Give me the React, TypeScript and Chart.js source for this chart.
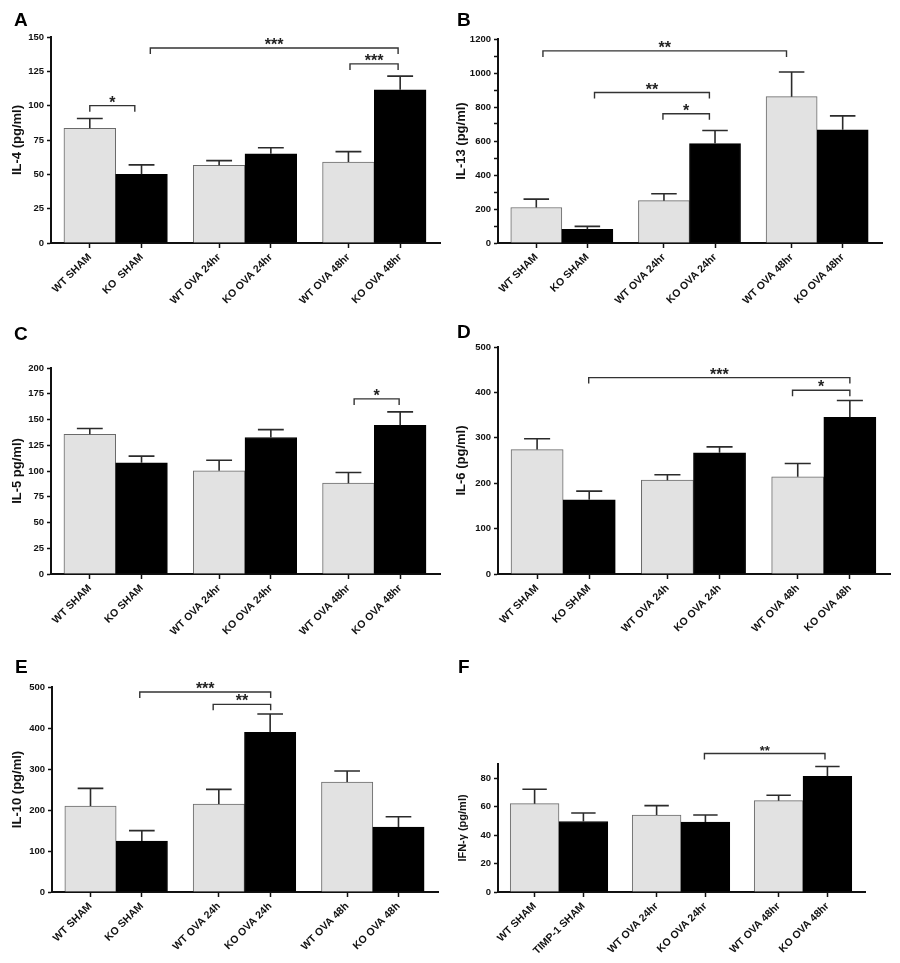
import React, { useEffect, useRef } from 'react';
import { Chart, registerables } from 'chart.js';
Chart.register(...registerables);

const FONT = '"Liberation Sans", Arial, Helvetica, sans-serif';
const LIGHT = '#e2e2e2';
const DARK = '#000000';
const INK = '#111111';

// ---------- data ----------
const il4Labels = ['WT SHAM', 'KO  SHAM', 'WT OVA 24hr', 'KO OVA 24hr', 'WT OVA 48hr', 'KO OVA 48hr'];
const il4Mean = [83.5, 50, 56.6, 65, 59, 111.5];
const il4Sem = [7.2, 6.9, 3.4, 4.4, 7.5, 10];
const il4Ticks = [0, 25, 50, 75, 100, 125, 150];
const il4Sig = [
  { from: 0, to: 0.87, y: 100, label: '*' },
  { from: 1.17, to: 5.96, y: 142, label: '***' },
  { from: 5.03, to: 5.96, y: 130.4, label: '***' },
];

const il13Labels = ['WT SHAM', 'KO SHAM', 'WT OVA 24hr', 'KO OVA 24hr', 'WT OVA 48hr', 'KO OVA 48hr'];
const il13Mean = [209, 80, 249, 585, 861, 666];
const il13Sem = [49, 18, 41, 77, 145, 82];
const il13Ticks = [0, 200, 400, 600, 800, 1000, 1200];
const il13Sig = [
  { from: 0.13, to: 4.9, y: 1130, label: '**' },
  { from: 1.14, to: 3.39, y: 885, label: '**' },
  { from: 2.48, to: 3.39, y: 760, label: '*' },
];

const il5Labels = ['WT SHAM', 'KO SHAM', 'WT OVA 24hr', 'KO OVA 24hr', 'WT OVA 48hr', 'KO OVA 48hr'];
const il5Mean = [135.7, 107.9, 100.2, 132.5, 88.2, 144.4];
const il5Sem = [5.5, 6.5, 10.3, 7.7, 10.3, 13];
const il5Ticks = [0, 25, 50, 75, 100, 125, 150, 175, 200];
const il5Sig = [{ from: 5.11, to: 5.98, y: 170, label: '*' }];

const il6Labels = ['WT SHAM', 'KO SHAM', 'WT OVA 24h', 'KO OVA 24h', 'WT OVA 48h', 'KO OVA 48h'];
const il6Mean = [274, 163.5, 206.7, 266.9, 214, 345.3];
const il6Sem = [24, 19.1, 11.8, 13.1, 29.4, 36.7];
const il6Ticks = [0, 100, 200, 300, 400, 500];
const il6Sig = [
  { from: 0.99, to: 6.0, y: 432.6, label: '***' },
  { from: 4.9, to: 6.0, y: 404.7, label: '*' },
];

const il10Labels = ['WT SHAM', 'KO SHAM', 'WT OVA 24h', 'KO OVA 24h', 'WT OVA 48h', 'KO OVA 48h'];
const il10Mean = [209.8, 124.4, 214.6, 389.4, 268.3, 158.5];
const il10Sem = [43, 25.2, 35.8, 44.6, 26.8, 25.2];
const il10Ticks = [0, 100, 200, 300, 400, 500];
const il10Sig = [
  { from: 0.96, to: 3.51, y: 487.8, label: '***' },
  { from: 2.39, to: 3.51, y: 457.7, label: '**' },
];

const ifngLabels = ['WT SHAM', 'TIMP-1 SHAM', 'WT OVA 24hr', 'KO OVA 24hr', 'WT OVA 48hr', 'KO OVA 48hr'];
const ifngMean = [62.1, 49.6, 54.1, 49.2, 64.2, 81.4];
const ifngSem = [10.1, 5.9, 6.6, 4.9, 3.8, 6.8];
const ifngTicks = [0, 20, 40, 60, 80];
const ifngSig = [{ from: 3.48, to: 5.95, y: 97.4, label: '**' }];

// bars come in WT/KO pairs; pairs are separated by half a bar
const GROUP_STEP = 2.5;
const barX = (i: number) => Math.floor(i / 2) * GROUP_STEP + (i % 2);

type Sig = { from: number; to: number; y: number; label: string };
type Panel = {
  letter: string; title: string; titleSize: number; labels: string[]; mean: number[]; sem: number[];
  ticks: number[]; yMax: number; step: number; sig: Sig[]; starSize: number;
  left: number; top: number; w: number; h: number; L: number; T: number; R: number; B: number; titlePad: number;
  letterX: number; letterY: number;
};

const panels: Panel[] = [
  { letter: 'A', title: 'IL-4 (pg/ml)', titleSize: 13, labels: il4Labels, mean: il4Mean, sem: il4Sem, ticks: il4Ticks, yMax: 150, step: 25, sig: il4Sig, starSize: 16,
    left: 0, top: 0, w: 450, h: 320, L: 51, T: 37, R: 440, B: 243, titlePad: 10, letterX: 14, letterY: 10 },
  { letter: 'B', title: 'IL-13 (pg/ml)', titleSize: 13, labels: il13Labels, mean: il13Mean, sem: il13Sem, ticks: il13Ticks, yMax: 1200, step: 100, sig: il13Sig, starSize: 16,
    left: 450, top: 0, w: 450, h: 320, L: 48, T: 39, R: 432, B: 243, titlePad: 4, letterX: 457, letterY: 10 },
  { letter: 'C', title: 'IL-5 pg/ml)', titleSize: 13, labels: il5Labels, mean: il5Mean, sem: il5Sem, ticks: il5Ticks, yMax: 200, step: 25, sig: il5Sig, starSize: 16,
    left: 0, top: 320, w: 450, h: 320, L: 51, T: 48, R: 440, B: 254, titlePad: 10, letterX: 14, letterY: 324 },
  { letter: 'D', title: 'IL-6 (pg/ml)', titleSize: 13, labels: il6Labels, mean: il6Mean, sem: il6Sem, ticks: il6Ticks, yMax: 500, step: 100, sig: il6Sig, starSize: 16,
    left: 450, top: 320, w: 450, h: 320, L: 48, T: 27, R: 440, B: 254, titlePad: 4, letterX: 457, letterY: 322 },
  { letter: 'E', title: 'IL-10 (pg/ml)', titleSize: 13, labels: il10Labels, mean: il10Mean, sem: il10Sem, ticks: il10Ticks, yMax: 500, step: 100, sig: il10Sig, starSize: 16,
    left: 0, top: 640, w: 450, h: 323, L: 52, T: 47, R: 438, B: 252, titlePad: 10, letterX: 15, letterY: 657 },
  { letter: 'F', title: 'IFN-\u03b3 (pg/ml)', titleSize: 11, labels: ifngLabels, mean: ifngMean, sem: ifngSem, ticks: ifngTicks, yMax: 90, step: 10, sig: ifngSig, starSize: 13,
    left: 450, top: 640, w: 450, h: 323, L: 48, T: 124, R: 415, B: 252, titlePad: 6, letterX: 458, letterY: 657 },
];

function makeChart(canvas: HTMLCanvasElement, p: Panel) {
  const xs = p.mean.map((_, i) => barX(i));
  const errorBars = {
    id: 'errorBars',
    afterDatasetsDraw(chart: any) {
      const meta = chart.getDatasetMeta(0);
      const y = chart.scales.y;
      const ctx = chart.ctx;
      ctx.save();
      ctx.strokeStyle = '#2b2b2b';
      ctx.lineWidth = 1.6;
      meta.data.forEach((el: any, i: number) => {
        const yTop = y.getPixelForValue(p.mean[i] + p.sem[i]);
        const half = el.width / 4;
        ctx.beginPath();
        ctx.moveTo(el.x, el.y);
        ctx.lineTo(el.x, yTop);
        ctx.moveTo(el.x - half, yTop);
        ctx.lineTo(el.x + half, yTop);
        ctx.stroke();
      });
      ctx.restore();
    },
  };
  const brackets = {
    id: 'brackets',
    afterDraw(chart: any) {
      const xS = chart.scales.x;
      const yS = chart.scales.y;
      const ctx = chart.ctx;
      ctx.save();
      ctx.strokeStyle = '#333';
      ctx.fillStyle = '#222';
      ctx.lineWidth = 1.4;
      p.sig.forEach((s) => {
        const x1 = xS.getPixelForValue(s.from);
        const x2 = xS.getPixelForValue(s.to);
        const yy = yS.getPixelForValue(s.y);
        ctx.beginPath();
        ctx.moveTo(x1, yy + 6);
        ctx.lineTo(x1, yy);
        ctx.lineTo(x2, yy);
        ctx.lineTo(x2, yy + 6);
        ctx.stroke();
        ctx.font = `bold ${p.starSize}px ${FONT}`;
        ctx.textAlign = 'center';
        ctx.textBaseline = 'alphabetic';
        ctx.fillText(s.label, (x1 + x2) / 2, yy + p.starSize * 0.13);
      });
      ctx.restore();
    },
  };
  const tickFont = { family: FONT, size: 9.5, weight: 'bold' as const };
  return new Chart(canvas, {
    type: 'bar',
    data: {
      datasets: [
        {
          data: p.mean.map((v, i) => ({ x: xs[i], y: v })),
          backgroundColor: p.mean.map((_, i) => (i % 2 ? DARK : LIGHT)),
          borderColor: p.mean.map((_, i) => (i % 2 ? DARK : '#6a6a6a')),
          borderWidth: 1,
          categoryPercentage: 1,
          barPercentage: 1,
        } as any,
      ],
    },
    options: {
      responsive: false,
      animation: false,
      devicePixelRatio: 1,
      layout: { padding: { left: 0, top: p.T, right: p.w - p.R, bottom: 0 } },
      plugins: { legend: { display: false }, tooltip: { enabled: false } },
      scales: {
        x: {
          type: 'linear',
          offset: false,
          min: -0.75,
          max: 6.77,
          afterBuildTicks: (s: any) => { s.ticks = xs.map((v) => ({ value: v })); },
          afterFit: (s: any) => { s.height = p.h - p.B; },
          ticks: {
            autoSkip: false,
            maxRotation: 45,
            minRotation: 45,
            padding: 3,
            color: INK,
            font: { family: FONT, size: 10.5, weight: 'bold' },
            callback: (_v: any, i: number) => p.labels[i],
          },
          grid: { display: true, offset: false, drawOnChartArea: false, drawTicks: true, tickLength: 5, tickColor: INK, tickWidth: 1.5 },
          border: { display: true, color: INK, width: 2 },
        },
        y: {
          type: 'linear',
          min: 0,
          max: p.yMax,
          afterFit: (s: any) => { s.width = p.L; },
          afterBuildTicks: (s: any) => {
            const t: any[] = [];
            for (let v = 0; v <= p.ticks[p.ticks.length - 1] + 1e-9; v += p.step) t.push({ value: v });
            s.ticks = t;
          },
          ticks: {
            padding: 3,
            color: INK,
            font: tickFont,
            callback: (v: any) => (p.ticks.includes(Number(v)) ? String(v) : ''),
          },
          grid: {
            display: true, drawOnChartArea: false, drawTicks: true, tickLength: 4, tickWidth: 1.5,
            tickColor: (c: any) => (c.tick && p.ticks.includes(c.tick.value)) || p.step === 100 ? INK : 'rgba(0,0,0,0)',
          },
          border: { display: true, color: INK, width: 2 },
          title: {
            display: true,
            text: p.title,
            color: INK,
            font: { family: FONT, size: p.titleSize, weight: 'bold' },
            padding: { top: p.titlePad, bottom: 0 },
          },
        },
      },
    } as any,
    plugins: [errorBars, brackets],
  });
}

function PanelChart({ p }: { p: Panel }) {
  const ref = useRef<HTMLCanvasElement | null>(null);
  useEffect(() => {
    if (!ref.current) return;
    const c = makeChart(ref.current, p);
    return () => c.destroy();
  }, [p]);
  return (
    <canvas
      ref={ref}
      width={p.w}
      height={p.h}
      style={{ position: 'absolute', left: p.left, top: p.top, width: p.w, height: p.h }}
    />
  );
}

export default function App() {
  return (
    <div style={{ position: 'absolute', left: 0, top: 0, width: 900, height: 963, background: '#fff', overflow: 'hidden' }}>
      {panels.map((p) => (
        <PanelChart key={p.letter} p={p} />
      ))}
      {panels.map((p) => (
        <div
          key={'L' + p.letter}
          style={{
            position: 'absolute', left: p.letterX, top: p.letterY, fontFamily: FONT, fontWeight: 'bold',
            fontSize: 19, lineHeight: '19px', color: '#000',
          }}
        >
          {p.letter}
        </div>
      ))}
    </div>
  );
}
